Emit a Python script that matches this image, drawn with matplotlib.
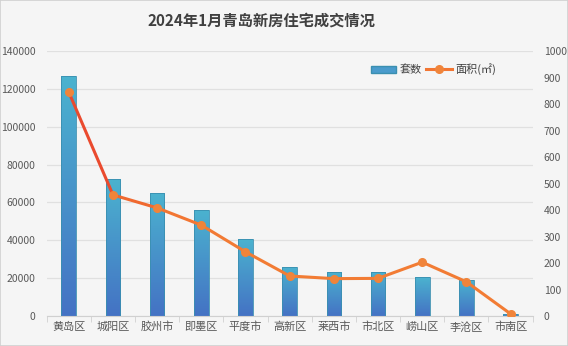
import numpy as np
import matplotlib
matplotlib.use("Agg")
import matplotlib.pyplot as plt
from matplotlib.patches import Rectangle, Patch
from matplotlib.lines import Line2D
from matplotlib.collections import LineCollection
from matplotlib.colors import LinearSegmentedColormap

plt.rcParams['font.family'] = ['Noto Sans CJK SC', 'DejaVu Sans']

# 数据
districts = ['黄岛区', '城阳区', '胶州市', '即墨区', '平度市', '高新区',
             '莱西市', '市北区', '崂山区', '李沧区', '市南区']
units = [126800, 72400, 65000, 56000, 40700, 25900, 23400, 23400, 20400, 19000, 900]
area = [845, 457, 408, 343, 242, 151, 141, 142, 203, 129, 8]

bg = '#f5f5f5'
fig = plt.figure(figsize=(5.68, 3.46), dpi=100, facecolor=bg)
fig.patches.append(Rectangle((0, 0), 1, 1, transform=fig.transFigure,
                             fill=False, edgecolor='#d0d0d0', lw=1.2))
ax = fig.add_axes([0.0822, 0.0867, 0.8556, 0.7659])
ax.set_facecolor(bg)

x = np.arange(len(districts))
bars = ax.bar(x, units, width=0.33, color='none', edgecolor='#3a8fb0', lw=0.6, zorder=3)

# 柱子渐变
cmap_bar = LinearSegmentedColormap.from_list('b', ['#4472c4', '#4bb3cf'])
grad = np.linspace(0, 1, 256).reshape(-1, 1)
for b in bars:
    bx, by, bw, bh = b.get_x(), b.get_y(), b.get_width(), b.get_height()
    im = ax.imshow(grad, cmap=cmap_bar, origin='lower', aspect='auto',
                   extent=[bx, bx + bw, by, by + bh], zorder=2)
    im.set_clip_path(b)

ax.set_xlim(-0.5, len(districts) - 0.5)
ax.set_ylim(0, 140000)
ax.set_yticks(range(0, 140001, 20000))
ax.grid(axis='y', color='#e0e0e0', lw=0.9, zorder=0)
ax.set_axisbelow(True)
for s in ['top', 'right', 'left']:
    ax.spines[s].set_visible(False)
ax.spines['bottom'].set_color('#d0d0d0')
ax.set_xticks(x)
ax.set_xticklabels(districts)
ax.set_xticks(np.arange(-0.5, len(districts)), minor=True)
ax.tick_params(axis='x', which='major', length=0, labelsize=8, colors='#595959', pad=4)
ax.tick_params(axis='x', which='minor', length=4, color='#d0d0d0')
ax.tick_params(axis='y', length=0, labelsize=7.5, colors='#595959', pad=8)

# 面积折线
ax2 = ax.twinx()
ax2.set_ylim(0, 1000)
ax2.set_yticks(range(0, 1001, 100))
for s in ax2.spines.values():
    s.set_visible(False)
ax2.tick_params(axis='y', length=0, labelsize=7.5, colors='#595959', pad=8)
pts = np.column_stack([x, area])
segs = np.stack([pts[:-1], pts[1:]], axis=1)
seg_colors = ['#ea4a2e', '#f0692f', '#f27633', '#f27a34', '#f27c34',
              '#f27c34', '#f27c34', '#f27c34', '#f27c34', '#f27c34']
lc = LineCollection(segs, colors=seg_colors, lw=2.2, zorder=4)
ax2.add_collection(lc)
ax2.plot(x, area, 'o', color='#f0843a', ms=5.5, zorder=5)

handles = [Patch(facecolor='#4a9bcc', edgecolor='#3a8fb0'),
           Line2D([], [], color='#f27633', lw=2.2, marker='o', ms=5.5, mfc='#f0843a', mec='#f0843a')]
ax2.legend(handles, ['套数', '面积(㎡)'], loc='upper right', bbox_to_anchor=(0.945, 0.99),
           ncol=2, frameon=False, fontsize=8, handlelength=2.3, columnspacing=0.4,
           handletextpad=0.3, labelcolor='#404040')

fig.text(0.46, 0.94, '2024年1月青岛新房住宅成交情况', ha='center', va='center',
         fontsize=11, fontweight='bold', color='#404040')

fig.savefig('out.png', dpi=100, facecolor=bg)
